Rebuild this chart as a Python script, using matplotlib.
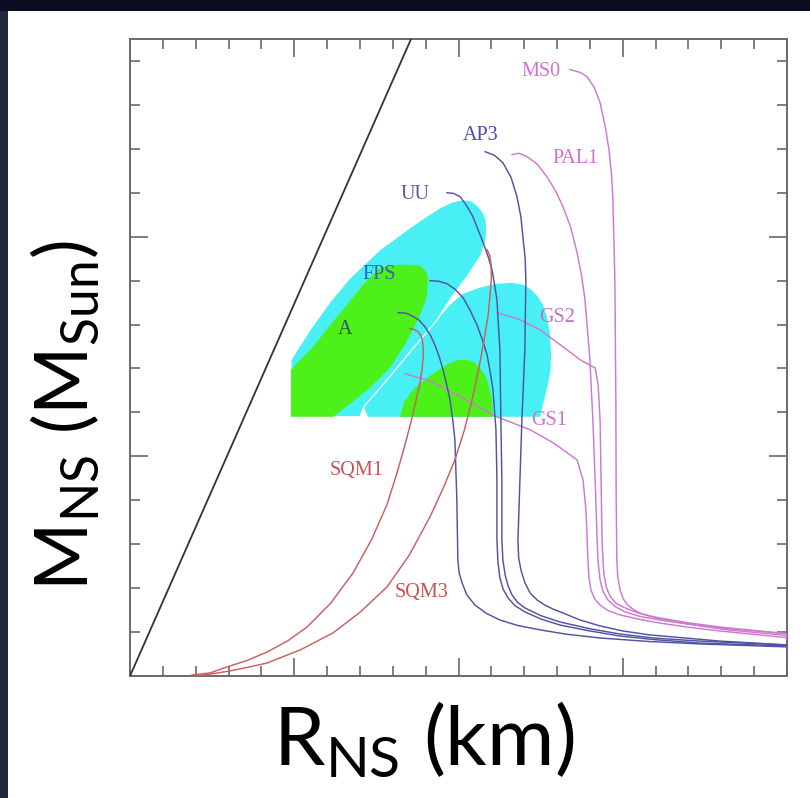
import matplotlib
matplotlib.use("Agg")
import matplotlib.pyplot as plt
from matplotlib.patches import Polygon, Rectangle
from matplotlib.ticker import MultipleLocator

plt.rcParams['mathtext.fontset'] = 'custom'
plt.rcParams['mathtext.rm'] = 'Lato'
plt.rcParams['mathtext.it'] = 'Lato:italic'
plt.rcParams['mathtext.bf'] = 'Lato:bold'

# ---- mass-radius relations: radius (km), mass (solar masses) ----
ms0_r = [13.39, 13.70, 13.91, 14.13, 14.31, 14.47, 14.58, 14.66, 14.70, 14.76, 14.79, 14.80, 14.82,
         14.85, 14.92, 15.02, 15.15, 15.35, 15.60, 16.00, 16.60, 17.40, 18.20, 20.3]
ms0_m = [2.761, 2.748, 2.729, 2.680, 2.610, 2.500, 2.396, 2.280, 2.169, 1.804, 1.257, 0.802, 0.528,
         0.450, 0.392, 0.350, 0.323, 0.300, 0.282, 0.265, 0.246, 0.227, 0.210, 0.180]

pal1_r = [11.63, 11.85, 12.09, 12.40, 12.69, 12.95, 13.18, 13.42, 13.61, 13.75, 13.85, 14.00, 14.09, 14.16,
          14.22, 14.25, 14.31, 14.40, 14.55, 14.78, 15.07, 15.50, 16.13, 17.00, 17.96, 20.3]
pal1_m = [2.374, 2.380, 2.364, 2.330, 2.273, 2.210, 2.137, 2.040, 1.927, 1.820, 1.713, 1.440, 1.166, 0.893,
          0.620, 0.520, 0.437, 0.385, 0.346, 0.315, 0.292, 0.272, 0.255, 0.236, 0.219, 0.188]

gs2_r = [11.17, 11.50, 11.87, 12.48, 13.18, 13.70, 14.00, 14.16, 14.25, 14.31, 14.34, 14.37,
         14.40, 14.43, 14.50, 14.61, 14.80, 15.07, 15.50, 16.13, 17.00, 17.96, 20.3]
gs2_m = [1.654, 1.640, 1.622, 1.576, 1.499, 1.440, 1.415, 1.403, 1.326, 1.166, 0.893, 0.620,
         0.520, 0.460, 0.405, 0.364, 0.330, 0.310, 0.285, 0.264, 0.242, 0.223, 0.188]

gs1_r = [8.37, 9.13, 10.05, 11.17, 12.18, 12.88, 13.61, 13.79, 13.88, 13.94, 13.97, 14.03, 14.15,
         14.31, 14.55, 14.92, 15.50, 16.13, 17.00, 17.96, 20.3]
gs1_m = [1.376, 1.344, 1.271, 1.180, 1.121, 1.062, 0.984, 0.893, 0.756, 0.528, 0.450, 0.392, 0.350,
         0.323, 0.298, 0.278, 0.258, 0.241, 0.222, 0.205, 0.170]

ap3_r = [10.81, 11.10, 11.35, 11.60, 11.78, 11.90, 11.96, 12.03, 12.05, 12.02, 11.93, 11.87, 11.81,
         11.83, 11.90, 12.02, 12.18, 12.40, 12.63, 12.90, 13.18, 13.70, 14.31, 15.00, 15.83, 17.96, 20.3]
ap3_m = [2.387, 2.370, 2.337, 2.270, 2.182, 2.090, 2.000, 1.900, 1.804, 1.485, 1.166, 0.893, 0.620,
         0.540, 0.483, 0.425, 0.378, 0.345, 0.323, 0.303, 0.287, 0.255, 0.228, 0.205, 0.187, 0.159, 0.139]

uu_r = [9.65, 9.85, 10.05, 10.25, 10.44, 10.60, 10.75, 10.90, 11.02, 11.10, 11.17, 11.26, 11.29, 11.32,
        11.32, 11.35, 11.42, 11.51, 11.63, 11.80, 12.02, 12.50, 13.09, 14.00, 14.92, 16.00, 17.35, 20.3]
uu_m = [2.200, 2.197, 2.182, 2.140, 2.091, 2.030, 1.973, 1.910, 1.850, 1.780, 1.713, 1.485, 1.166, 0.893,
        0.620, 0.530, 0.460, 0.410, 0.369, 0.335, 0.310, 0.275, 0.246, 0.215, 0.191, 0.172, 0.159, 0.139]

fps_r = [9.13, 9.40, 9.65, 9.90, 10.14, 10.37, 10.56, 10.73, 10.87, 10.97, 11.05, 11.14, 11.17, 11.17,
         11.20, 11.26, 11.36, 11.51, 11.72, 12.02, 12.50, 13.09, 14.00, 14.92, 16.00, 17.35, 20.3]
fps_m = [1.800, 1.797, 1.786, 1.760, 1.722, 1.660, 1.599, 1.530, 1.462, 1.380, 1.303, 1.121, 0.893, 0.620,
         0.520, 0.446, 0.395, 0.355, 0.320, 0.292, 0.260, 0.232, 0.205, 0.182, 0.165, 0.150, 0.135]

a_r = [8.16, 8.40, 8.58, 8.80, 8.98, 9.15, 9.28, 9.42, 9.53, 9.65, 9.74, 9.83, 9.89, 9.95, 9.98,
       10.02, 10.11, 10.25, 10.50, 10.85, 11.26, 11.80, 12.48, 13.30, 14.31, 15.80, 17.35, 20.3]
a_m = [1.654, 1.652, 1.640, 1.620, 1.590, 1.550, 1.508, 1.450, 1.394, 1.320, 1.257, 1.160, 1.075, 0.802, 0.528,
       0.470, 0.424, 0.370, 0.323, 0.285, 0.255, 0.230, 0.210, 0.190, 0.173, 0.157, 0.146, 0.131]

sqm1_r = [1.89, 2.44, 2.95, 3.55, 4.17, 4.80, 5.39, 6.10, 6.79, 7.35, 7.82, 8.12, 8.37, 8.56, 8.71,
          8.82, 8.89, 8.93, 8.92, 8.87, 8.77, 8.64, 8.52]
sqm1_m = [0.005, 0.014, 0.041, 0.070, 0.109, 0.160, 0.223, 0.330, 0.469, 0.620, 0.779, 0.920, 1.052, 1.160, 1.257,
          1.330, 1.394, 1.460, 1.508, 1.545, 1.568, 1.578, 1.581]

sqm3_r = [1.98, 2.50, 3.04, 3.60, 4.17, 5.20, 6.18, 7.00, 7.82, 8.50, 9.13, 9.55, 9.89, 10.18, 10.41,
          10.62, 10.78, 10.90, 10.96, 11.00, 10.99, 10.95, 10.87]
sqm3_m = [0.000, 0.010, 0.023, 0.040, 0.059, 0.120, 0.196, 0.290, 0.405, 0.550, 0.724, 0.860, 0.984, 1.120, 1.257,
          1.400, 1.531, 1.640, 1.736, 1.810, 1.872, 1.915, 1.941]

# black-hole limit R = 2GM/c^2 (km per solar mass)
schwarzschild_km_per_msun = 2.95

# ---- allowed regions (radius km, mass Msun) ----
cyan_left_r = [4.90, 4.90, 5.48, 6.09, 6.70, 7.61, 8.52, 9.00, 9.44, 9.80, 10.14, 10.40, 10.59, 10.75,
               10.84, 10.86, 10.84, 10.68, 10.26, 9.80, 9.35, 8.58, 7.85, 7.12, 7.00]
cyan_left_m = [1.180, 1.440, 1.576, 1.704, 1.813, 1.941, 2.041, 2.090, 2.132, 2.158, 2.169, 2.163, 2.141, 2.110,
               2.077, 2.030, 1.986, 1.913, 1.818, 1.727, 1.622, 1.485, 1.353, 1.226, 1.180]

cyan_right_r = [7.24, 7.12, 7.85, 8.58, 9.35, 9.74, 10.14, 10.65, 11.17, 11.63, 11.95, 12.18, 12.40, 12.57,
                12.70, 12.78, 12.82, 12.80, 12.72, 12.57, 12.48]
cyan_right_m = [1.180, 1.226, 1.353, 1.485, 1.622, 1.690, 1.740, 1.768, 1.786, 1.790, 1.782, 1.763, 1.730, 1.690,
                1.630, 1.560, 1.462, 1.390, 1.326, 1.235, 1.180]

green_left_r = [4.90, 4.90, 5.57, 6.18, 6.61, 7.09, 7.61, 7.90, 8.22, 8.55, 8.83, 9.00, 9.07, 9.06, 9.04, 8.77,
                8.37, 7.91, 7.31, 6.70, 6.18]
green_left_m = [1.180, 1.394, 1.499, 1.613, 1.690, 1.781, 1.859, 1.868, 1.872, 1.872, 1.868, 1.845, 1.813, 1.770,
                1.727, 1.622, 1.508, 1.403, 1.312, 1.239, 1.180]

green_right_r = [8.22, 8.34, 8.65, 9.13, 9.74, 10.00, 10.26, 10.48, 10.65, 10.80, 10.90, 11.02, 11.05]
green_right_m = [1.180, 1.248, 1.308, 1.367, 1.426, 1.438, 1.440, 1.428, 1.403, 1.372, 1.335, 1.257, 1.180]

# ---- curve labels ----
label_names = ["MS0", "AP3", "PAL1", "UU", "FPS", "A", "GS2", "GS1", "SQM1", "SQM3"]
label_r = [12.51, 10.68, 13.55, 8.68, 7.58, 6.54, 13.00, 12.75, 6.91, 8.86]
label_m = [2.752, 2.460, 2.355, 2.191, 1.827, 1.576, 1.631, 1.162, 0.934, 0.378]
label_colors = ["#d070d0", "#4a4aae", "#d070d0", "#5a5a9a", "#2f5fc0", "#2d5a50",
                "#c070c8", "#d070d0", "#c85050", "#c85050"]

BLUE = "#5252a2"
MAGENTA = "#cf78cf"
RED = "#c86060"
CYAN = "#48f0f6"
GREEN = "#4ef01a"

W, H = 810, 798
fig = plt.figure(figsize=(W / 100, H / 100), dpi=100, facecolor="#0b0d20")
# slightly lighter slide border on the left
fig.patches.append(Rectangle((0, 0), 8 / W, 1 - 11 / H, transform=fig.transFigure,
                             facecolor="#25273f", edgecolor="none", zorder=-11))
# white slide panel
fig.patches.append(Rectangle((8 / W, 0), 1 - 8 / W, 1 - 11 / H, transform=fig.transFigure,
                             facecolor="white", edgecolor="none", zorder=-10))

ax = fig.add_axes([130 / W, 1 - 676 / H, 657 / W, 637 / H])
ax.set_zorder(5)
ax.set_facecolor("white")
ax.set_xlim(0, 20)
ax.set_ylim(0, 2.9)

# shaded regions
ax.add_patch(Polygon(list(zip(cyan_right_r, cyan_right_m)), closed=True,
                     facecolor=CYAN, edgecolor="none", zorder=1))
ax.add_patch(Polygon(list(zip(cyan_left_r, cyan_left_m)), closed=True,
                     facecolor=CYAN, edgecolor="white", linewidth=0.9, zorder=1.1))
ax.add_patch(Polygon(list(zip(green_left_r, green_left_m)), closed=True,
                     facecolor=GREEN, edgecolor="none", zorder=1.2))
ax.add_patch(Polygon(list(zip(green_right_r, green_right_m)), closed=True,
                     facecolor=GREEN, edgecolor="none", zorder=1.2))

# black hole limit
ax.plot([0, schwarzschild_km_per_msun * 3.0], [0, 3.0], color="#333333", lw=1.3, zorder=3)

curves = [
    (ms0_r, ms0_m, MAGENTA), (pal1_r, pal1_m, MAGENTA), (gs2_r, gs2_m, MAGENTA), (gs1_r, gs1_m, MAGENTA),
    (ap3_r, ap3_m, BLUE), (uu_r, uu_m, BLUE), (fps_r, fps_m, BLUE), (a_r, a_m, BLUE),
    (sqm1_r, sqm1_m, RED), (sqm3_r, sqm3_m, RED),
]
for r, m, c in curves:
    ax.plot(r, m, color=c, lw=1.05, zorder=3, solid_joinstyle="round")

for name, r, m, c in zip(label_names, label_r, label_m, label_colors):
    ax.text(r, m, name, color=c, fontsize=14.5, family="Liberation Serif",
            ha="center", va="center", zorder=4)

# frame and ticks
for sp in ax.spines.values():
    sp.set_color("#6a6a6a")
    sp.set_linewidth(1.4)
ax.xaxis.set_major_locator(MultipleLocator(5))
ax.xaxis.set_minor_locator(MultipleLocator(1))
ax.yaxis.set_major_locator(MultipleLocator(1))
ax.yaxis.set_minor_locator(MultipleLocator(0.2))
ax.tick_params(which="both", direction="in", top=True, right=True, color="#6a6a6a",
               labelbottom=False, labelleft=False, width=1.2)
ax.tick_params(which="major", length=13)
ax.tick_params(which="minor", length=7)

# axis titles
fig.text(424 / W, 1 - 765 / H, r"$\mathrm{R_{NS}}$ (km)", fontsize=59, family="Lato",
         ha="center", va="baseline", color="black")
fig.text(88 / W, 1 - 415 / H, r"$\mathrm{M_{NS}}$ ($\mathrm{M_{Sun}}$)", fontsize=53, family="Lato",
         ha="center", va="baseline", rotation=90, rotation_mode="anchor", color="black")

fig.savefig("out.png", dpi=100, facecolor=fig.get_facecolor())
